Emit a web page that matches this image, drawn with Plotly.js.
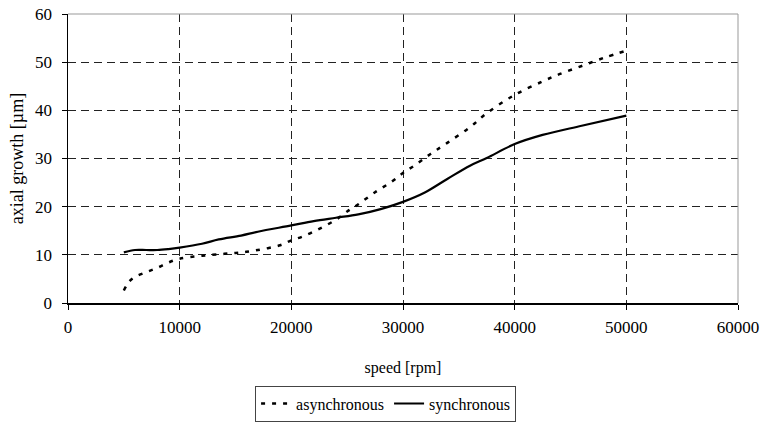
<!DOCTYPE html>
<html>
<head>
<meta charset="utf-8">
<script src="https://cdn.plot.ly/plotly-3.0.1.min.js"></script>
<style>html,body{margin:0;padding:0;background:#fff;}#chart{width:766px;height:425px;}</style>
</head>
<body>
<div id="chart"></div>
<script>
var asyncSpeed = [5000, 5500, 6000, 7000, 8000, 9000, 10000, 12000, 14000, 15500, 17000, 19000, 20000, 21000, 22500, 24000, 25000, 26000, 27500, 29000, 30000, 31000, 32500, 34000, 36000, 37500, 40000, 42500, 44000, 46000, 48000, 50000];
var asyncGrowth = [2.6, 4.5, 5.4, 6.4, 7.3, 8.4, 9.2, 9.8, 10.2, 10.5, 11.0, 12.0, 13.0, 13.8, 15.4, 17.3, 19.0, 20.5, 23.0, 25.2, 27.0, 28.5, 31.0, 33.3, 36.5, 39.4, 43.2, 46.0, 47.5, 49.2, 50.9, 52.4];
var syncSpeed = [5000, 6000, 7000, 8000, 9000, 10000, 12000, 13500, 15500, 17000, 20000, 22000, 24000, 26000, 28000, 30000, 32000, 34000, 36000, 37500, 40000, 42500, 46000, 50000];
var syncGrowth = [10.5, 11.0, 11.0, 11.0, 11.2, 11.5, 12.3, 13.2, 14.0, 14.8, 16.1, 17.0, 17.7, 18.4, 19.5, 21.0, 23.0, 25.8, 28.5, 30.1, 33.0, 34.9, 36.8, 38.9];
var seriesNames = ["asynchronous", "synchronous"];
var xTickVals = [0, 10000, 20000, 30000, 40000, 50000, 60000];
var yTickVals = [0, 10, 20, 30, 40, 50, 60];

var font = "Liberation Serif";
var traces = [
  {x: asyncSpeed, y: asyncGrowth, name: seriesNames[0], mode: "lines", type: "scatter",
   line: {color: "#000", width: 2.5, dash: "4px,7px", shape: "spline"}},
  {x: syncSpeed, y: syncGrowth, name: seriesNames[1], mode: "lines", type: "scatter",
   line: {color: "#000", width: 2.2, shape: "spline"}}
];
var layout = {
  width: 766, height: 425,
  margin: {l: 68, r: 28, t: 14, b: 122, autoexpand: false},
  paper_bgcolor: "#fff", plot_bgcolor: "#fff",
  font: {family: font, size: 16, color: "#000"},
  showlegend: true,
  legend: {orientation: "h", x: 0.474, xanchor: "center", yref: "container", y: 0.008, yanchor: "bottom",
           bordercolor: "#444", borderwidth: 1, font: {family: font, size: 16, color: "#000"},
           itemwidth: 30, tracegroupgap: 0},
  xaxis: {range: [0, 60000], tickvals: xTickVals, ticktext: xTickVals.map(String),
          showline: true, linecolor: "#000", linewidth: 1.5, ticks: "outside", ticklen: 5, tickcolor: "#000",
          showgrid: true, gridcolor: "#222", gridwidth: 1, griddash: "8px,5px", zeroline: false,
          tickfont: {family: font, size: 17, color: "#000"}, ticklabelstandoff: 3,
          title: {text: "speed [rpm]", font: {family: font, size: 16, color: "#000"}, standoff: 26}},
  yaxis: {range: [0, 60], tickvals: yTickVals,
          showline: true, linecolor: "#000", linewidth: 1.5, ticks: "outside", ticklen: 5, tickcolor: "#000",
          showgrid: true, gridcolor: "#222", gridwidth: 1, griddash: "8px,5px", zeroline: false,
          tickfont: {family: font, size: 17, color: "#000"}, ticklabelstandoff: 6,
          title: {text: "axial growth [µm]", font: {family: font, size: 18, color: "#000"}, standoff: 7}},
  shapes: [
    {type: "line", xref: "paper", yref: "paper", x0: 0, x1: 1, y0: 1, y1: 1, line: {color: "#999", width: 1}},
    {type: "line", xref: "paper", yref: "paper", x0: 1, x1: 1, y0: 0, y1: 1, line: {color: "#999", width: 1}}
  ]
};
Plotly.newPlot("chart", traces, layout, {displayModeBar: false, staticPlot: true});
</script>
</body>
</html>
